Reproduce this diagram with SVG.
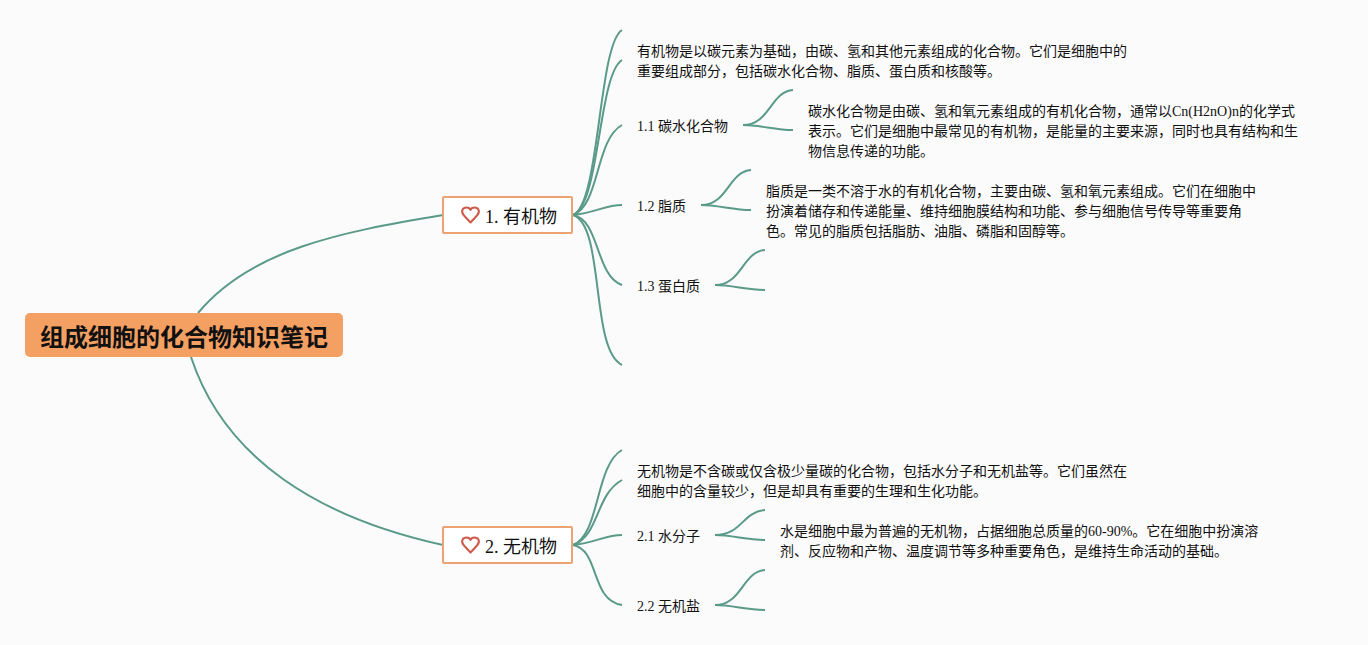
<svg xmlns="http://www.w3.org/2000/svg" width="1368" height="645" viewBox="0 0 1368 645">
<style>
text{font-family:"Liberation Serif","Noto Sans CJK SC",serif;fill:#111}
.t{font-size:14px}
.topic{font-size:18px}
.root{font-size:24px;font-weight:700;font-family:"Liberation Sans","Noto Sans CJK SC",sans-serif}
.c{fill:none;stroke:#5a9a88;stroke-width:2;stroke-linecap:butt}
.box{fill:#fff;stroke:#eda273;stroke-width:2}
.heart{fill:none;stroke:#cf5a4a;stroke-width:2;stroke-linejoin:round}
</style>
<rect width="1368" height="645" fill="#fbfbfb"/>
<g id="connectors">
<path class="c" d="M198,313C250,250 340,232 443,215"/>
<path class="c" d="M191,357C225,460 320,518 443,545"/>
<path class="c" d="M573,215C600,205 598,45 622,30"/>
<path class="c" d="M573,215C600,205 598,75 622,60"/>
<path class="c" d="M573,215C600,205 595,140 622,125"/>
<path class="c" d="M573,215C595,213 605,205 622,205"/>
<path class="c" d="M573,215C600,220 595,275 622,285"/>
<path class="c" d="M573,215C605,225 590,350 622,365"/>
<path class="c" d="M743,125C770,125 770,92 793,90"/>
<path class="c" d="M743,125C760,125 775,130 793,130"/>
<path class="c" d="M701,205C728,205 728,172 751,170"/>
<path class="c" d="M701,205C718,205 733,210 751,210"/>
<path class="c" d="M715,285C742,285 742,252 765,250"/>
<path class="c" d="M715,285C732,285 747,290 765,290"/>
<path class="c" d="M573,545C600,535 595,465 622,450"/>
<path class="c" d="M573,545C600,535 595,495 622,480"/>
<path class="c" d="M573,545C595,543 605,535 622,535"/>
<path class="c" d="M573,545C600,550 590,600 622,605"/>
<path class="c" d="M715,535C742,535 742,512 765,510"/>
<path class="c" d="M715,535C732,535 747,540 765,540"/>
<path class="c" d="M715,605C742,605 742,572 765,570"/>
<path class="c" d="M715,605C732,605 747,610 765,610"/>
</g>
<g id="root">
<rect x="25" y="313" width="318" height="44" rx="5" fill="#f4a063"/>
<text class="root" x="40" y="346">组成细胞的化合物知识笔记</text>
</g>
<g id="topic1">
<rect class="box" x="443" y="197" width="129" height="36" rx="1"/>
<path class="heart" d="M470.500,222.500L464,215.500C460,211 463,207.500 466.500,207.500C468.500,207.500 470,208.500 470.500,210C471,208.500 472.500,207.500 474.500,207.500C478,207.500 481,211 477,215.500Z"/>
<text class="topic" x="485" y="222.500">1. 有机物</text>
</g>
<g id="topic2">
<rect class="box" x="443" y="527" width="129" height="36" rx="1"/>
<path class="heart" d="M470.500,552.500L464,545.500C460,541 463,537.500 466.500,537.500C468.500,537.500 470,538.500 470.500,540C471,538.500 472.500,537.500 474.500,537.500C478,537.500 481,541 477,545.500Z"/>
<text class="topic" x="485" y="552.500">2. 无机物</text>
</g>
<g id="n1-desc"><text class="t" x="637" y="56">有机物是以碳元素为基础，由碳、氢和其他元素组成的化合物。它们是细胞中的</text><text class="t" x="637" y="76">重要组成部分，包括碳水化合物、脂质、蛋白质和核酸等。</text></g>
<g id="n11"><text class="t" x="637" y="131">1.1 碳水化合物</text></g>
<g id="n11-desc"><text class="t" x="808" y="116">碳水化合物是由碳、氢和氧元素组成的有机化合物，通常以Cn(H2nO)n的化学式</text><text class="t" x="808" y="136">表示。它们是细胞中最常见的有机物，是能量的主要来源，同时也具有结构和生</text><text class="t" x="808" y="156">物信息传递的功能。</text></g>
<g id="n12"><text class="t" x="637" y="211">1.2 脂质</text></g>
<g id="n12-desc"><text class="t" x="766" y="196">脂质是一类不溶于水的有机化合物，主要由碳、氢和氧元素组成。它们在细胞中</text><text class="t" x="766" y="216">扮演着储存和传递能量、维持细胞膜结构和功能、参与细胞信号传导等重要角</text><text class="t" x="766" y="236">色。常见的脂质包括脂肪、油脂、磷脂和固醇等。</text></g>
<g id="n13"><text class="t" x="637" y="291">1.3 蛋白质</text></g>
<g id="n2-desc"><text class="t" x="637" y="476">无机物是不含碳或仅含极少量碳的化合物，包括水分子和无机盐等。它们虽然在</text><text class="t" x="637" y="496">细胞中的含量较少，但是却具有重要的生理和生化功能。</text></g>
<g id="n21"><text class="t" x="637" y="541">2.1 水分子</text></g>
<g id="n21-desc"><text class="t" x="780" y="536">水是细胞中最为普遍的无机物，占据细胞总质量的60-90%。它在细胞中扮演溶</text><text class="t" x="780" y="556">剂、反应物和产物、温度调节等多种重要角色，是维持生命活动的基础。</text></g>
<g id="n22"><text class="t" x="637" y="611">2.2 无机盐</text></g>
</svg>
